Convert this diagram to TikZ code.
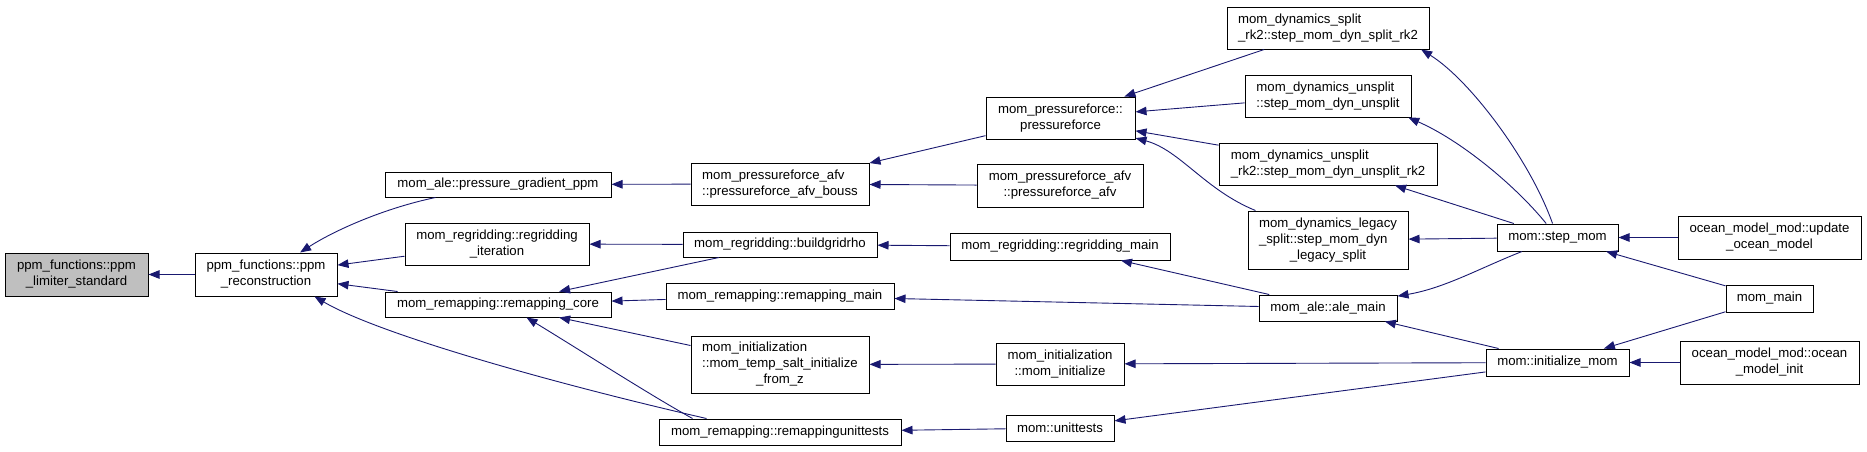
\documentclass[tikz,border=0pt]{standalone}
\usepackage{fontspec}
\setmainfont{Liberation Sans}
\usepackage{tikz}
\usetikzlibrary{shapes,arrows.meta,positioning}
\definecolor{midnight}{HTML}{191970}
\definecolor{boxgray}{HTML}{BFBFBF}
\tikzstyle{funcblock}=[rectangle, draw=black, fill=white, line width=1pt, inner sep=0pt, align=center]
\tikzstyle{grayblock}=[funcblock, fill=boxgray]
\tikzstyle{callline}=[-{Triangle[length=11pt,width=8.5pt]}, draw=midnight, line width=0.9pt]
\newcommand{\fname}[2]{\begin{tabular}{@{}l@{}}#1\\\multicolumn{1}{@{}c@{}}{#2}\end{tabular}}

\begin{document}
\begin{tikzpicture}[x=1pt, y=-1pt, every node/.style = {font=\fontsize{13.2}{16}\selectfont}]
\useasboundingbox (0,0) rectangle (1867,451);

\node[grayblock, minimum width=143pt, minimum height=43pt] (limstd) at (76.5,274.5) {\fname{ppm\_functions::ppm}{\_limiter\_standard}};
\node[funcblock, minimum width=142pt, minimum height=43pt] (recon) at (266,274.5) {\fname{ppm\_functions::ppm}{\_reconstruction}};
\node[funcblock, minimum width=226pt, minimum height=25pt] (pgppm) at (498,184.5) {mom\_ale::pressure\_gradient\_ppm};
\node[funcblock, minimum width=184pt, minimum height=42pt] (regit) at (497,244) {\fname{mom\_regridding::regridding}{\_iteration}};
\node[funcblock, minimum width=226pt, minimum height=25pt] (remcore) at (498,304.5) {mom\_remapping::remapping\_core};
\node[funcblock, minimum width=178pt, minimum height=42pt] (bouss) at (780,184) {\fname{mom\_pressureforce\_afv}{::pressureforce\_afv\_bouss}};
\node[funcblock, minimum width=194pt, minimum height=25pt] (bgrho) at (780,244.5) {mom\_regridding::buildgridrho};
\node[funcblock, minimum width=228pt, minimum height=26pt] (remmain) at (780,296) {mom\_remapping::remapping\_main};
\node[funcblock, minimum width=178pt, minimum height=57pt] (tsz) at (780,364.5) {\fname{mom\_initialization\\::mom\_temp\_salt\_initialize}{\_from\_z}};
\node[funcblock, minimum width=242pt, minimum height=26pt] (remut) at (780,432) {mom\_remapping::remappingunittests};
\node[funcblock, minimum width=149pt, minimum height=42pt] (pf) at (1060.5,118) {\fname{mom\_pressureforce::}{pressureforce}};
\node[funcblock, minimum width=166pt, minimum height=43pt] (pfafv) at (1060,185.5) {\fname{mom\_pressureforce\_afv}{::pressureforce\_afv}};
\node[funcblock, minimum width=220pt, minimum height=27pt] (regmain) at (1060,246.5) {mom\_regridding::regridding\_main};
\node[funcblock, minimum width=128pt, minimum height=42pt] (mominit) at (1060,364) {\fname{mom\_initialization}{::mom\_initialize}};
\node[funcblock, minimum width=108pt, minimum height=26pt] (unittests) at (1060,428) {mom::unittests};
\node[funcblock, minimum width=202pt, minimum height=42pt] (srk2) at (1328,28) {\fname{mom\_dynamics\_split}{\_rk2::step\_mom\_dyn\_split\_rk2}};
\node[funcblock, minimum width=166pt, minimum height=42pt] (unsplit) at (1328,96) {\fname{mom\_dynamics\_unsplit}{::step\_mom\_dyn\_unsplit}};
\node[funcblock, minimum width=218pt, minimum height=42pt] (urk2) at (1328,164) {\fname{mom\_dynamics\_unsplit}{\_rk2::step\_mom\_dyn\_unsplit\_rk2}};
\node[funcblock, minimum width=160pt, minimum height=58pt] (legacy) at (1328,240) {\fname{mom\_dynamics\_legacy\\\_split::step\_mom\_dyn}{\_legacy\_split}};
\node[funcblock, minimum width=138pt, minimum height=26pt] (alemain) at (1328,308) {mom\_ale::ale\_main};
\node[funcblock, minimum width=121pt, minimum height=27pt] (stepmom) at (1557.5,237.5) {mom::step\_mom};
\node[funcblock, minimum width=143pt, minimum height=27pt] (initmom) at (1557.5,362.5) {mom::initialize\_mom};
\node[funcblock, minimum width=183pt, minimum height=43pt] (updocean) at (1769.5,237.5) {\fname{ocean\_model\_mod::update}{\_ocean\_model}};
\node[funcblock, minimum width=87pt, minimum height=27pt] (mommain) at (1769.5,298.5) {mom\_main};
\node[funcblock, minimum width=179pt, minimum height=43pt] (oceaninit) at (1769.5,362.5) {\fname{ocean\_model\_mod::ocean}{\_model\_init}};

\draw[callline] (recon) -- (limstd);
\draw[callline] (pgppm) .. controls (385,208) and (335,230) .. (recon);
\draw[callline] (regit) -- (recon);
\draw[callline] (remcore) -- (recon);
\draw[callline] ([xshift=48pt]remut.north west) .. controls (560,385) and (380,335) .. ([xshift=120pt]recon.south west);
\draw[callline] (bouss) -- (pgppm);
\draw[callline] (bgrho) -- (regit);
\draw[callline] (bgrho) -- (remcore);
\draw[callline] (remmain) -- (remcore);
\draw[callline] (tsz) -- (remcore);
\draw[callline] ([xshift=34pt]remut.north west) .. controls (650,395) and (580,350) .. ([xshift=142pt]remcore.south west);
\draw[callline] (pf) -- (bouss);
\draw[callline] (pfafv) -- (bouss);
\draw[callline] (regmain) -- (bgrho);
\draw[callline] (alemain) -- (regmain);
\draw[callline] (alemain) -- (remmain);
\draw[callline] (mominit) -- (tsz);
\draw[callline] (unittests) -- (remut);
\draw[callline] (srk2) -- (pf);
\draw[callline] (unsplit) -- (pf);
\draw[callline] (urk2) -- (pf);
\draw[callline] (legacy) .. controls (1205,190) and (1180,150) .. (pf);
\draw[callline] (stepmom) .. controls (1530,160) and (1470,80) .. (srk2.-13);
\draw[callline] (stepmom) .. controls (1515,185) and (1460,140) .. (unsplit.-15);
\draw[callline] (stepmom) -- (urk2);
\draw[callline] (stepmom) -- (legacy);
\draw[callline] (stepmom) .. controls (1480,268) and (1445,288) .. (alemain);
\draw[callline] (initmom) -- (alemain);
\draw[callline] (initmom) -- (mominit);
\draw[callline] (initmom) -- (unittests);
\draw[callline] (updocean) -- (stepmom);
\draw[callline] (mommain) -- (stepmom);
\draw[callline] (mommain) -- (initmom);
\draw[callline] (oceaninit) -- (initmom);

\end{tikzpicture}
\end{document}
